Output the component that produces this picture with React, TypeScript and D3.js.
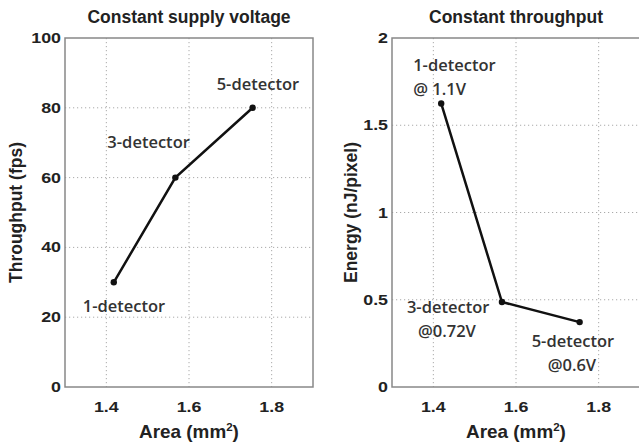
import React, { useRef, useEffect } from 'react'
import * as d3 from 'd3'

// left panel: constant supply voltage
const leftArea = [1.418, 1.567, 1.754]
const throughput = [30, 60, 80]
const leftLabels = [['1-detector'], ['3-detector'], ['5-detector']]

// right panel: constant throughput
const rightArea = [1.419, 1.566, 1.754]
const energy = [1.625, 0.487, 0.372]
const rightLabels = [['1-detector', '@ 1.1V'], ['3-detector', '@0.72V'], ['5-detector', '@0.6V']]

const xTicks = [1.4, 1.6, 1.8]
const leftYTicks = [0, 20, 40, 60, 80, 100]
const rightYTicks = [0, 0.5, 1, 1.5, 2]

const W = 639
const H = 446
const FONT = 'Liberation Sans, Arial, sans-serif'

const App = () => {
	const svgRef = useRef<SVGSVGElement>(null)

	useEffect(() => {
		const svg = d3.select(svgRef.current)
		svg.selectAll('*').remove()
		svg.append('rect').attr('width', W).attr('height', H).attr('fill', '#fff')

		const panel = (opts: any) => {
			const { x0, x1, xs, ys, yDomain, yTicks, title, ylabel, ylabelX, labels, labelPos } = opts
			const top = 38
			const bottom = 387
			const x = d3.scaleLinear().domain([1.3, 1.9]).range([x0, x1])
			const y = d3.scaleLinear().domain(yDomain).range([bottom, top])
			const g = svg.append('g')

			// grid
			g.selectAll('.vg').data(xTicks).enter().append('line')
				.attr('x1', d => x(d)).attr('x2', d => x(d)).attr('y1', top).attr('y2', bottom)
				.attr('stroke', '#aaa').attr('stroke-width', 1).attr('stroke-dasharray', '1.2,2.8')
			g.selectAll('.hg').data(yTicks.filter((d: number) => d !== yDomain[0] && d !== yDomain[1])).enter().append('line')
				.attr('x1', x0).attr('x2', x1).attr('y1', (d: number) => y(d)).attr('y2', (d: number) => y(d))
				.attr('stroke', '#aaa').attr('stroke-width', 1).attr('stroke-dasharray', '1.2,2.8')

			// box
			g.append('rect').attr('x', x0).attr('y', top).attr('width', x1 - x0).attr('height', bottom - top)
				.attr('fill', 'none').attr('stroke', '#888').attr('stroke-width', 1.5)

			const label = (px: number, py: number, size: number, sx: number, anchor: string) =>
				g.append('text').attr('transform', `translate(${px},${py}) scale(${sx},1)`)
					.attr('text-anchor', anchor).attr('font-family', FONT).attr('font-weight', 'bold')
					.attr('font-size', size).attr('fill', '#222')

			// x tick labels
			xTicks.forEach(d => label(x(d), 412, 15.5, 1.15, 'middle').text(d3.format('.1f')(d)))
			// y tick labels
			yTicks.forEach((d: number) => label(x0 - 4, y(d) + 5, 15.5, 1.15, 'end').text(String(d)))

			// title
			label((x0 + x1) / 2, 23, 17.5, 1, 'middle').text(title)
			// x label
			const xl = label((x0 + x1) / 2, 438, 18, 1.05, 'middle')
			xl.append('tspan').text('Area (mm')
			xl.append('tspan').attr('dy', -7).attr('font-size', 11).text('2')
			xl.append('tspan').attr('dy', 7).text(')')
			// y label
			g.append('text').attr('transform', `translate(${ylabelX},${(top + bottom) / 2}) rotate(-90)`)
				.attr('text-anchor', 'middle').attr('font-family', FONT).attr('font-weight', 'bold')
				.attr('font-size', 17.5).attr('fill', '#222').text(ylabel)

			// line
			const pts = xs.map((d: number, i: number) => [x(d), y(ys[i])])
			g.append('path').attr('d', d3.line()(pts)).attr('fill', 'none')
				.attr('stroke', '#111').attr('stroke-width', 2.5)
			g.selectAll('.pt').data(pts).enter().append('circle')
				.attr('cx', (d: any) => d[0]).attr('cy', (d: any) => d[1]).attr('r', 3.2).attr('fill', '#111')

			// annotations
			labels.forEach((lines: string[], i: number) => {
				const [dx, dy, dx2] = labelPos[i]
				const t = g.append('text').attr('font-family', 'Open Sans, sans-serif').attr('font-weight', 600)
					.attr('font-size', 16.5).attr('fill', '#333')
				lines.forEach((s, j) => {
					t.append('tspan').attr('x', pts[i][0] + (j === 0 ? dx : dx2)).attr('y', pts[i][1] + dy + j * 24).text(s)
				})
			})
		}

		panel({
			x0: 65, x1: 313, xs: leftArea, ys: throughput, yDomain: [0, 100], yTicks: leftYTicks,
			title: 'Constant supply voltage', ylabel: 'Throughput (fps)', ylabelX: 22,
			labels: leftLabels, labelPos: [[-31, 30, 0], [-68, -30, 0], [-36, -18, 0]]
		})
		panel({
			x0: 392, x1: 640, xs: rightArea, ys: energy, yDomain: [0, 2], yTicks: rightYTicks,
			title: 'Constant throughput', ylabel: 'Energy (nJ/pixel)', ylabelX: 357,
			labels: rightLabels, labelPos: [[-28, -32, -28], [-95, 11, -84], [-48, 25, -32]]
		})
	}, [])

	return (
		<svg ref={svgRef} width={W} height={H} style={{ position: 'absolute', left: 0, top: 0 }}></svg>
	)
}

export default App
